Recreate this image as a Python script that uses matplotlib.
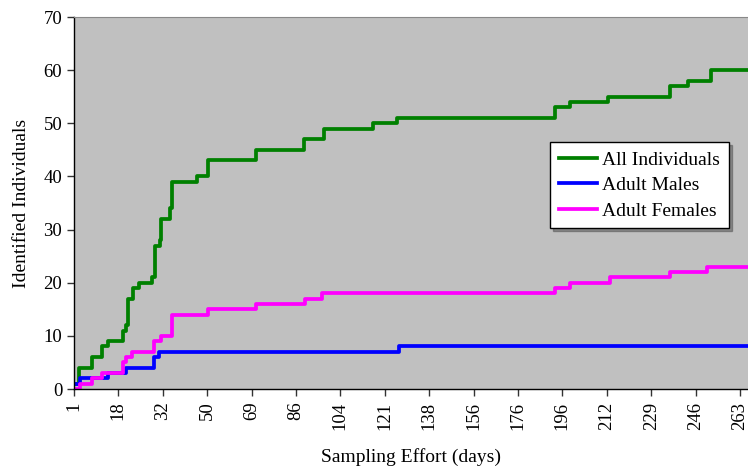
import matplotlib
matplotlib.use("Agg")
import matplotlib.pyplot as plt

# sampling occasions on an evenly spaced index axis; labels are days
tick_idx = [0, 10, 20, 30, 40, 50, 60, 70, 80, 90, 100, 110, 120, 130, 140, 150]
tick_days = ["1", "18", "32", "50", "69", "86", "104", "121", "138", "156",
             "176", "196", "212", "229", "246", "263"]

all_x = [0, 1.2, 4, 6.2, 7.7, 11.1, 11.6, 12.2, 13.2, 14.7, 17.5, 18.2, 19.4, 19.5,
         21.6, 22.1, 27.6, 30.1, 41.1, 51.9, 56.3, 67.3, 72.7, 108.3, 111.7,
         120.3, 134.2, 138.3, 143.5, 152]
all_y = [1, 4, 6, 8, 9, 11, 12, 17, 19, 20, 21, 27, 28, 32,
         34, 39, 40, 43, 45, 47, 49, 50, 51, 53, 54,
         55, 57, 58, 60, 60]

male_x = [0, 1.4, 7.7, 11.8, 18.1, 19.2, 73.2, 152]
male_y = [1, 2, 3, 4, 6, 7, 8, 8]

female_x = [0, 1.4, 4.1, 6.2, 11.1, 11.6, 13.0, 18.1, 19.5, 22.0, 30.1, 41.1,
            52.0, 55.9, 108.3, 111.7, 120.7, 134.2, 142.6, 152]
female_y = [0, 1, 2, 3, 5, 6, 7, 9, 10, 14, 15, 16,
            17, 18, 19, 20, 21, 22, 23, 23]

plt.rcParams['font.family'] = ['Liberation Serif', 'DejaVu Serif']

fig = plt.figure(figsize=(7.48, 4.70), dpi=100)
ax = fig.add_axes([74 / 748, 81 / 470, 674 / 748, 372 / 470])
ax.set_facecolor('#c0c0c0')

lw = 2.7
ax.step(all_x, all_y, where='post', color='#008000', lw=lw, label='All Individuals')
ax.step(male_x, male_y, where='post', color='#0000ff', lw=lw, label='Adult Males')
ax.step(female_x, female_y, where='post', color='#ff00ff', lw=lw, label='Adult Females')

ax.set_xlim(0, 151.8)
ax.set_ylim(0, 70)
ax.set_yticks(range(0, 71, 10))
ax.set_xticks(tick_idx)
ax.set_xticklabels(tick_days, rotation=90)
ax.tick_params(axis='both', direction='out', length=5, width=1, labelsize=13.5, color='#333333')
ax.tick_params(axis='x', pad=4)

for s in ['left', 'bottom']:
    ax.spines[s].set_color('black')
    ax.spines[s].set_linewidth(1)
ax.spines['top'].set_color('#888888')
ax.spines['right'].set_visible(False)

ax.set_xlabel('Sampling Effort (days)', fontsize=14, labelpad=13)
ax.set_ylabel('Identified Individuals', fontsize=14, labelpad=10)

leg = ax.legend(loc='upper left', bbox_to_anchor=(0.706, 0.663), fontsize=14,
                fancybox=False, shadow=True, framealpha=1, edgecolor='black',
                handlelength=2.0, handletextpad=0.25, borderpad=0.45, labelspacing=0.4,
                borderaxespad=0)
leg.get_frame().set_linewidth(1)

fig.savefig('out.png', dpi=100)
